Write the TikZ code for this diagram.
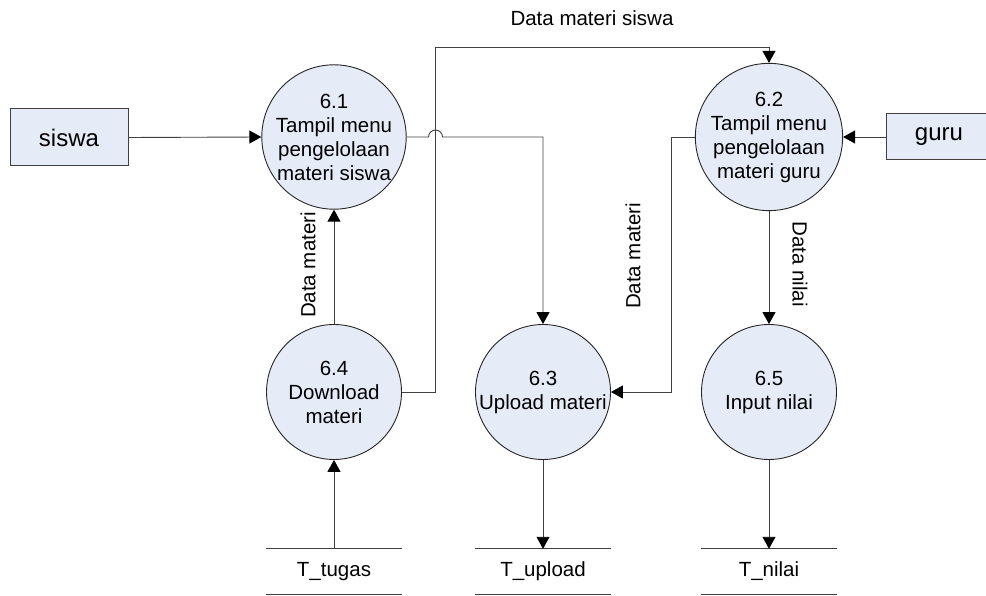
\documentclass[tikz,border=0pt]{standalone}
\usepackage{fontspec}
\setmainfont{Liberation Sans}
\usetikzlibrary{arrows.meta}
\definecolor{procfill}{RGB}{230,236,247}
\definecolor{flowline}{RGB}{64,64,64}
\tikzset{
  x=1pt, y=1pt,
  txt/.style={font=\fontsize{20.5}{24}\selectfont},
  proc/.style={circle, draw=black!85, line width=0.9pt, fill=procfill,
    minimum size=135pt, inner sep=0pt, align=center, txt},
  entity/.style={rectangle, draw=black!75, line width=1pt, fill=procfill,
    inner sep=0pt, font=\fontsize{24}{28}\selectfont},
  store/.style={minimum width=136pt, minimum height=45pt, inner sep=0pt, txt},
  flow/.style={draw=flowline, line width=0.9pt,
    -{Triangle[length=12pt,width=13pt,color=black]}},
  plain/.style={draw=flowline, line width=0.9pt},
  lbl/.style={txt, inner sep=0pt}
}
\begin{document}
\begin{tikzpicture}
\useasboundingbox (0,0) rectangle (986,595);
\clip (0,0) rectangle (986,595);

% external entities
\node[entity, minimum width=118pt, minimum height=57pt] (siswa) at (69,457.5) {siswa};
\node[entity, minimum width=106pt, minimum height=46pt] (guru) at (939,458) {guru};

% processes
\node[proc] (p61) at (334,458) {6.1\\Tampil menu\\pengelolaan\\materi siswa};
\node[proc] (p62) at (769,458) {6.2\\Tampil menu\\pengelolaan\\materi guru};
\node[proc] (p64) at (334,203) {6.4\\Download\\materi};
\node[proc] (p63) at (543,203) {6.3\\Upload materi};
\node[proc] (p65) at (769,203) {6.5\\Input nilai};

% data stores
\node[store] (tugas) at (334,23.5) {T\_tugas};
\node[store] (upload) at (543,23.5) {T\_upload};
\node[store] (nilai) at (769,23.5) {T\_nilai};
\foreach \s in {tugas,upload,nilai}{
  \draw[plain] (\s.north west) -- (\s.north east);
  \draw[plain] (\s.south west) -- (\s.south east);
}

% routing points
\coordinate (jn) at (435.5,548);
\coordinate (jd) at (671,458);

% flows
\draw[flow] (siswa.east) -- (p61.west);
\draw[flow] (guru.west) -- (p62.east);
\draw[flow] (p64.east) -| (jn) -| (p62.north);
\draw[flow] (p61.east) -- ([xshift=-7pt]jn |- p61.east)
  arc[start angle=180, end angle=0, radius=7pt] -| (p63.north);
\draw[flow] (p62.west) -- (jd) |- (p63.east);
\draw[flow] (p64.north) -- (p61.south);
\draw[flow] (p62.south) -- (p65.north);
\draw[flow] (tugas.north) -- (p64.south);
\draw[flow] (p63.south) -- (upload.north);
\draw[flow] (p65.south) -- (nilai.north);

% flow labels
\node[lbl] (l1) at (592,577) {Data materi siswa};
\node[lbl, rotate=90] (l2) at (308,330) {Data materi};
\node[lbl, rotate=90] (l3) at (633,339) {Data materi};
\node[lbl, rotate=-90] (l4) at (800,331) {Data nilai};
\end{tikzpicture}
\end{document}
